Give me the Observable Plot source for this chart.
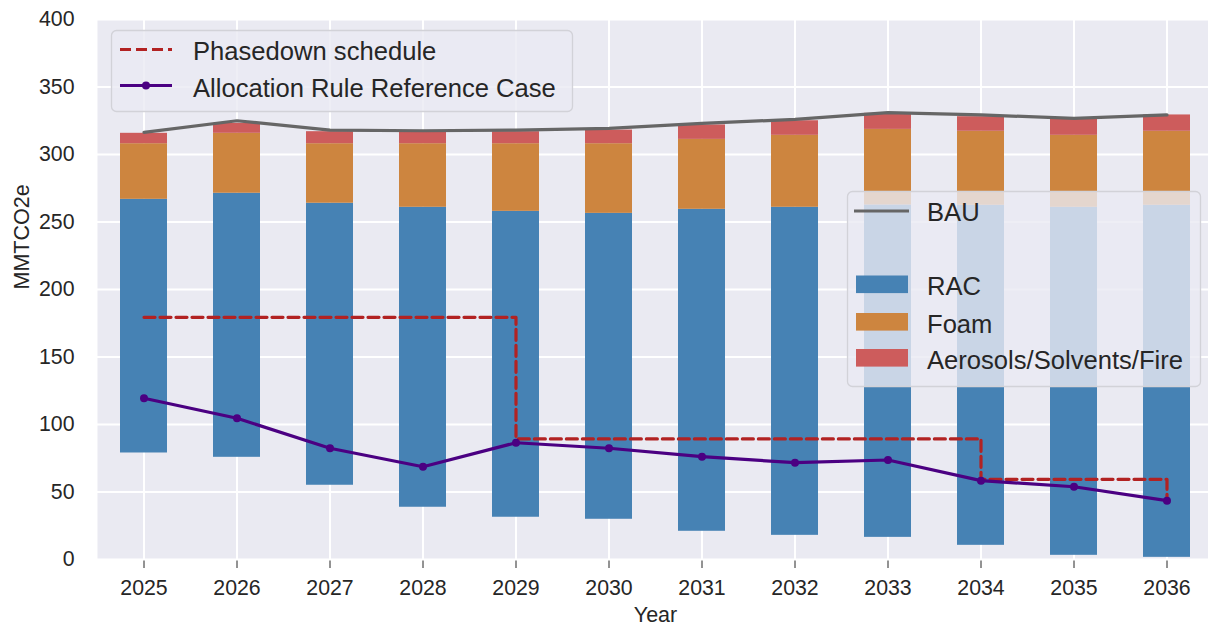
<!DOCTYPE html>
<html>
<head>
<meta charset="utf-8">
<script src="https://cdn.jsdelivr.net/npm/d3@7"></script>
<script src="https://cdn.jsdelivr.net/npm/@observablehq/plot@0.6"></script>
<style>
  html, body { margin: 0; padding: 0; background: #ffffff; overflow: hidden; }
</style>
</head>
<body>
<div id="chart"></div>
<script>
// ---- data ----
const years = [2025, 2026, 2027, 2028, 2029, 2030, 2031, 2032, 2033, 2034, 2035, 2036];
// invisible base below the RAC segment
const base = [78.9, 75.7, 55.0, 38.7, 31.3, 29.8, 20.9, 17.9, 16.4, 10.5, 3.1, 1.6];
const rac = [187.9, 195.6, 208.9, 222.2, 226.6, 226.6, 238.5, 243.0, 246.2, 251.9, 257.8, 260.8];
const foam = [41.2, 44.4, 44.1, 47.1, 50.1, 51.6, 51.8, 53.3, 56.0, 54.8, 53.3, 54.8];
const aerosols = [7.7, 7.4, 8.9, 8.4, 8.9, 10.1, 10.7, 10.8, 11.9, 10.8, 12.6, 12.1];
const bau = [316.4, 325.0, 318.1, 317.6, 318.1, 319.4, 323.1, 326.0, 331.0, 329.3, 326.8, 329.3];
const allocation = [119.4, 104.6, 82.4, 68.7, 86.5, 82.4, 76.2, 71.7, 73.7, 58.4, 53.9, 43.6];
const phasedown = [179.4, 179.4, 179.4, 179.4, 89.3, 89.3, 89.3, 89.3, 89.3, 59.4, 59.4, 45.3];
const yTicks = [0, 50, 100, 150, 200, 250, 300, 350, 400];

const seriesNames = ["RAC", "Foam", "Aerosols/Solvents/Fire"];
const seriesColors = ["#4682B4", "#CD853F", "#CD5C5C"];

const rows = years.map((year, i) => {
  const racTop = base[i] + rac[i];
  const foamTop = racTop + foam[i];
  const aeroTop = foamTop + aerosols[i];
  return {year, base: base[i], racTop, foamTop, aeroTop,
          bau: bau[i], allocation: allocation[i], phasedown: phasedown[i]};
});

const FONT = "'Liberation Sans', Arial, 'DejaVu Sans', sans-serif";
const TXT = "#262626";

const chart = Plot.plot({
  width: 1213,
  height: 629,
  marginLeft: 97,
  marginRight: 0,
  marginTop: 19,
  marginBottom: 70,
  style: {fontFamily: FONT, fontSize: "21.3px", color: TXT, background: "white", maxWidth: "none", overflow: "visible"},
  x: {type: "band", domain: years, paddingInner: 0.5, paddingOuter: 0.25, align: 0.5,
      tickSize: 9, tickPadding: 11, label: null, tickFormat: d => String(d)},
  y: {domain: [0, 400], ticks: yTicks, tickSize: 0, tickPadding: 23, label: null, tickFormat: d => String(d)},
  marks: [
    Plot.frame({fill: "#EAEAF2", stroke: "none"}),
    Plot.ruleY(yTicks, {stroke: "white", strokeWidth: 2}),
    Plot.ruleX(years, {stroke: "white", strokeWidth: 2}),
    Plot.barY(rows, {x: "year", y1: "base", y2: "racTop", fill: seriesColors[0]}),
    Plot.barY(rows, {x: "year", y1: "racTop", y2: "foamTop", fill: seriesColors[1]}),
    Plot.barY(rows, {x: "year", y1: "foamTop", y2: "aeroTop", fill: seriesColors[2]}),
    Plot.line(rows, {x: "year", y: "bau", stroke: "#666666", strokeWidth: 3.2}),
    Plot.line(rows, {x: "year", y: "phasedown", curve: "step-after", stroke: "#B22222", strokeWidth: 3.2, strokeDasharray: "11,5"}),
    Plot.line(rows, {x: "year", y: "allocation", stroke: "#4B0082", strokeWidth: 3.2}),
    Plot.dot(rows, {x: "year", y: "allocation", r: 4, fill: "#4B0082", stroke: "none"}),
    Plot.text(["Year"], {frameAnchor: "bottom", dy: 56, text: d => d, fontSize: 21.5, lineAnchor: "middle", fill: TXT}),
    Plot.text(["MMTCO2e"], {frameAnchor: "left", dx: -75, rotate: -90, text: d => d, fontSize: 21.5, fill: TXT})
  ]
});

document.getElementById("chart").appendChild(chart);

// ---- legends (matplotlib-style boxes) ----
const svg = d3.select(chart);
const LFS = 25.6;
function label(g, x, y, s) {
  g.append("text").attr("x", x).attr("y", y).text(s)
    .attr("font-family", FONT).attr("font-size", LFS).attr("fill", TXT)
    .attr("text-anchor", "start");
}

// Legend 1 (upper left)
const g1 = svg.append("g");
g1.append("rect").attr("x", 111.5).attr("y", 30.5).attr("width", 461).attr("height", 81).attr("rx", 5)
  .attr("fill", "rgba(234,234,242,0.8)").attr("stroke", "#d2d2d8").attr("stroke-width", 1.3);
g1.append("line").attr("x1", 120).attr("x2", 172).attr("y1", 49.5).attr("y2", 49.5)
  .attr("stroke", "#B22222").attr("stroke-width", 3.2).attr("stroke-dasharray", "11,5");
label(g1, 193, 60, "Phasedown schedule");
g1.append("line").attr("x1", 120).attr("x2", 172).attr("y1", 85.5).attr("y2", 85.5)
  .attr("stroke", "#4B0082").attr("stroke-width", 3.2);
g1.append("circle").attr("cx", 146).attr("cy", 85.5).attr("r", 4).attr("fill", "#4B0082");
label(g1, 193, 97, "Allocation Rule Reference Case");

// Legend 2 (right)
const g2 = svg.append("g");
g2.append("rect").attr("x", 847.5).attr("y", 191.5).attr("width", 353).attr("height", 195).attr("rx", 5)
  .attr("fill", "rgba(234,234,242,0.8)").attr("stroke", "#d2d2d8").attr("stroke-width", 1.3);
g2.append("line").attr("x1", 854).attr("x2", 909).attr("y1", 211).attr("y2", 211)
  .attr("stroke", "#666666").attr("stroke-width", 3.2);
label(g2, 927, 221, "BAU");
const baselines = [295, 332.5, 368.5];
seriesNames.forEach((name, i) => {
  g2.append("rect").attr("x", 856).attr("y", baselines[i] - 19.5).attr("width", 52).attr("height", 17.6)
    .attr("fill", seriesColors[i]);
  label(g2, 927, baselines[i], name);
});
</script>
</body>
</html>
